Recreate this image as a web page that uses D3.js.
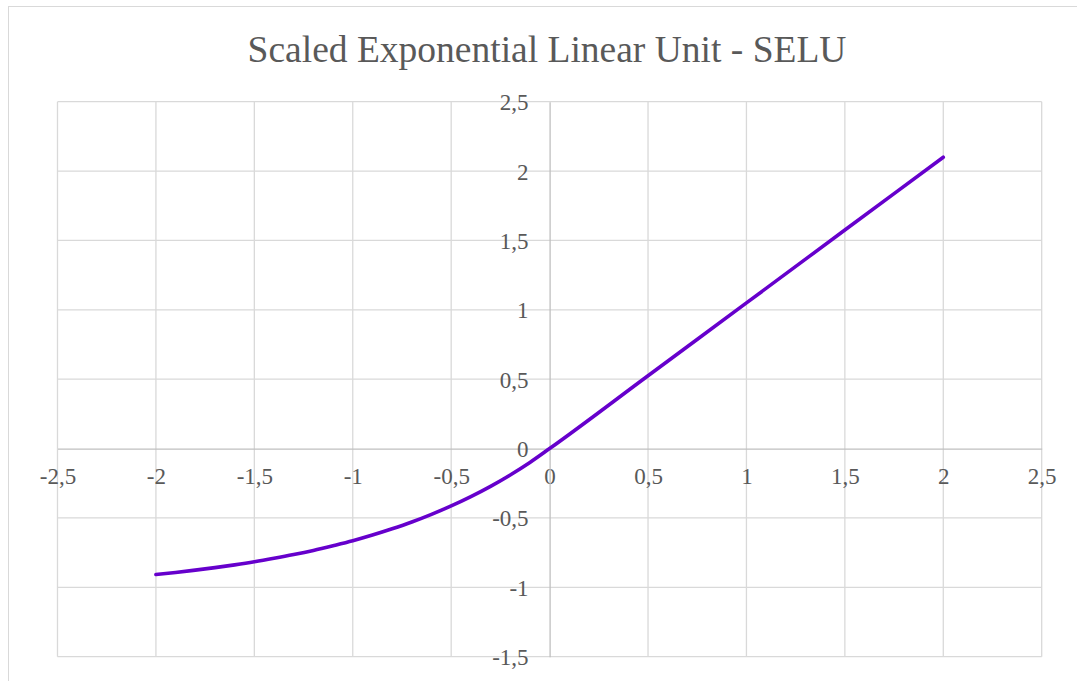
<!DOCTYPE html>
<html>
<head>
<meta charset="utf-8">
<script src="https://cdn.jsdelivr.net/npm/d3@7"></script>
<style>
  html, body { margin: 0; padding: 0; background: #fff; }
  svg { display: block; }
</style>
</head>
<body>
<svg id="chart" width="1077" height="681"></svg>
<script>
const title = "Scaled Exponential Linear Unit - SELU";
const xValues = [-2.0, -1.9, -1.8, -1.7, -1.6, -1.5, -1.4, -1.3, -1.2, -1.1, -1.0, -0.9, -0.8, -0.7, -0.6, -0.5, -0.4, -0.3, -0.2, -0.1, 0, 0.5, 1.0, 1.5, 2.0];
const yValues = [-0.908, -0.893, -0.876, -0.858, -0.838, -0.816, -0.791, -0.764, -0.734, -0.700, -0.664, -0.623, -0.578, -0.529, -0.474, -0.413, -0.346, -0.272, -0.190, -0.100, 0, 0.525, 1.05, 1.575, 2.1];
const xTicks = [-2.5, -2, -1.5, -1, -0.5, 0, 0.5, 1, 1.5, 2, 2.5];
const yTicks = [-1.5, -1, -0.5, 0, 0.5, 1, 1.5, 2, 2.5];

const svg = d3.select("#chart");
const plot = { left: 57.5, right: 1041.7, top: 101.7, bottom: 656.7 };
const x = d3.scaleLinear().domain([-2.5, 2.5]).range([plot.left, plot.right]);
const y = d3.scaleLinear().domain([-1.5, 2.5]).range([plot.bottom, plot.top]);
const fmt = v => String(v).replace(".", ",");
const font = "'Liberation Serif', 'Times New Roman', serif";

// outer border
svg.append("rect").attr("x", 8.5).attr("y", 6.5).attr("width", 1100).attr("height", 700)
  .attr("fill", "#fff").attr("stroke", "#d9d9d9").attr("stroke-width", 1);

// title
svg.append("text").attr("x", 547).attr("y", 62).attr("text-anchor", "middle")
  .attr("font-family", font).attr("font-size", 37.5).attr("fill", "#595959").text(title);

// gridlines
const grid = svg.append("g");
grid.selectAll(".vx").data(xTicks.filter(d => d !== 0)).enter().append("line")
  .attr("x1", d => x(d)).attr("x2", d => x(d)).attr("y1", plot.top).attr("y2", plot.bottom)
  .attr("stroke", "#d9d9d9").attr("stroke-width", 1.3);
grid.selectAll(".hy").data(yTicks.filter(d => d !== 0)).enter().append("line")
  .attr("y1", d => y(d)).attr("y2", d => y(d)).attr("x1", plot.left).attr("x2", plot.right)
  .attr("stroke", "#d9d9d9").attr("stroke-width", 1.3);

// axes through zero
const xAxis = d3.axisBottom(x).tickValues(xTicks).tickSize(0).tickFormat(fmt);
const gx = svg.append("g").attr("transform", `translate(0,${y(0)})`).call(xAxis);
gx.select(".domain").attr("stroke", "#bfbfbf").attr("stroke-width", 1.3);
gx.selectAll("text").attr("font-family", font).attr("font-size", 23).attr("fill", "#595959")
  .attr("dy", null).attr("y", 35);

const yAxis = d3.axisLeft(y).tickValues(yTicks).tickSize(0).tickFormat(fmt);
const gy = svg.append("g").attr("transform", `translate(${x(0)},0)`).call(yAxis);
gy.select(".domain").attr("stroke", "#bfbfbf").attr("stroke-width", 1.3);
gy.selectAll("text").attr("font-family", font).attr("font-size", 23).attr("fill", "#595959")
  .attr("dy", null).attr("y", 8).attr("x", -21);

// line
const data = xValues.map((v, i) => ({ x: v, y: yValues[i] }));
const line = d3.line().x(d => x(d.x)).y(d => y(d.y)).curve(d3.curveMonotoneX);
svg.append("path").datum(data).attr("d", line).attr("fill", "none")
  .attr("stroke", "#6600cc").attr("stroke-width", 3.6).attr("stroke-linecap", "round");
</script>
</body>
</html>
